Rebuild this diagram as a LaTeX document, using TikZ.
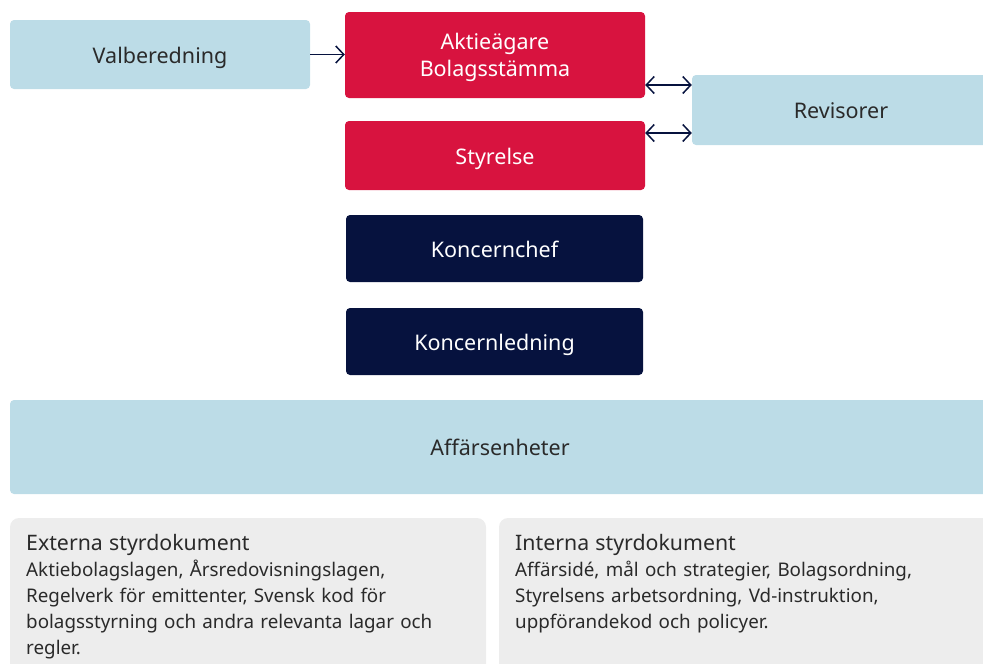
\documentclass[tikz,border=0pt]{standalone}
\usepackage{fontspec}
\setmainfont{Noto Sans}
\usetikzlibrary{arrows.meta}
\definecolor{paleblue}{HTML}{BCDCE7}
\definecolor{govred}{HTML}{D8133F}
\definecolor{navy}{HTML}{06123E}
\definecolor{docgray}{HTML}{EDEDED}
\definecolor{inktext}{HTML}{2A2A2A}
\tikzset{
  box/.style={rounded corners=4pt, inner sep=0pt, align=center,
    font=\fontsize{21.5}{27}\selectfont},
  oneline/.style={text height=23pt, text depth=6pt},
  bluebox/.style={box, oneline, fill=paleblue, text=inktext},
  redbox/.style={box, fill=govred, text=white},
  navybox/.style={box, oneline, fill=navy, text=white},
  boxlabel/.style={inner sep=0pt, align=center, font=\fontsize{21.5}{27}\selectfont},
  docbox/.style={rounded corners=9pt, fill=docgray},
  doctext/.style={anchor=north west, inner sep=0pt, align=left, text=inktext,
    font=\fontsize{18.8}{26}\selectfont, text width=450pt},
  tip/.tip={Straight Barb[length=8pt,width=17pt]},
  link/.style={draw=navy, line width=1.5pt, -tip},
  biglink/.style={draw=navy, line width=1.5pt, tip-tip}
}
\begin{document}
\begin{tikzpicture}[x=1pt,y=-1pt]
\useasboundingbox (0,0) rectangle (983,664);
\clip (0,0) rectangle (983,664);

% governance bodies
\node[bluebox, minimum width=300pt, minimum height=69pt] (val) at (160,54.5) {Valberedning};
\node[redbox, minimum width=300pt, minimum height=86pt] (agm) at (495,55) {};
\node[boxlabel, text=white] (agmtext) at ([yshift=-2pt]agm.center) {Aktieägare\\Bolagsstämma};
\node[redbox, oneline, minimum width=300pt, minimum height=69pt] (board) at (495,155.5) {Styrelse};
\node[bluebox, minimum width=298pt, minimum height=70pt] (audit) at (841,110) {Revisorer};
\node[navybox, minimum width=297pt, minimum height=67pt] (ceo) at (494.5,248.5) {Koncernchef};
\node[navybox, minimum width=297pt, minimum height=67pt] (mgmt) at (494.5,341.5) {Koncernledning};
\node[bluebox, minimum width=980pt, minimum height=94pt] (units) at (500,447) {Affärsenheter};

% connectors
\coordinate (agmR) at (agm.east |- 0,85);
\coordinate (auditA) at (audit.west |- 0,85);
\coordinate (boardR) at (board.east |- 0,133);
\coordinate (auditB) at (audit.west |- 0,133);
\draw[link] (val.east) -- (val.east -| agm.west);
\draw[biglink] (agmR) -- (auditA);
\draw[biglink] (boardR) -- (auditB);

% steering documents
\fill[docbox] (10,518) rectangle (486,690);
\fill[docbox] (499,518) rectangle (1000,690);
\node[doctext] (ext) at (26,534) {{\fontsize{21.3}{24}\selectfont Externa styrdokument}\\[0pt]
Aktiebolagslagen, Årsredovisningslagen,\\
Regelverk för emittenter, Svensk kod för\\
bolagsstyrning och andra relevanta lagar och\\
regler.};
\node[doctext] (int) at (515,534) {{\fontsize{21.3}{24}\selectfont Interna styrdokument}\\[0pt]
Affärsidé, mål och strategier, Bolagsordning,\\
Styrelsens arbetsordning, Vd-instruktion,\\
uppförandekod och policyer.};
\end{tikzpicture}
\end{document}
